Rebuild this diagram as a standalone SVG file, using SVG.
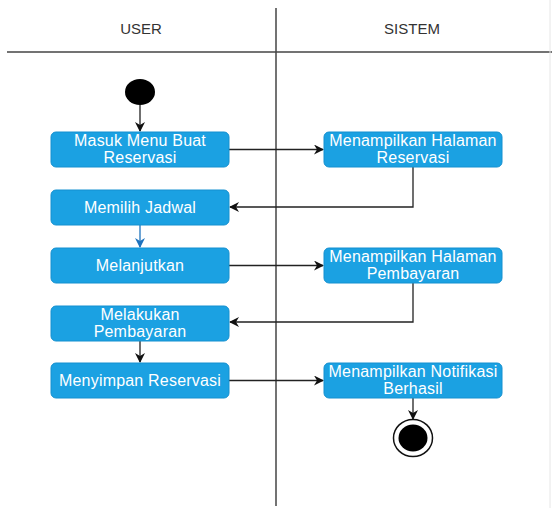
<svg xmlns="http://www.w3.org/2000/svg" width="552" height="508" viewBox="0 0 552 508">
<style>
.act{fill:#1ba1e2;stroke:#1590d0;stroke-width:1}
.t{font-family:"Liberation Sans",Arial,sans-serif;font-size:16px;letter-spacing:0.2px;fill:#ffffff;text-anchor:middle}
.h{font-family:"Liberation Sans",Arial,sans-serif;font-size:15px;fill:#333333;text-anchor:middle}
.c{fill:none;stroke:#222222;stroke-width:1.3}
.lane{stroke:#444444;stroke-width:1.5;fill:none}
</style>
<defs>
<marker id="ah" viewBox="0 0 10 10" refX="9" refY="5" markerWidth="10" markerHeight="10" markerUnits="userSpaceOnUse" orient="auto">
<path d="M0,0 L10,5 L0,10 L3,5 z" fill="#111111"/>
</marker>
<marker id="ahb" viewBox="0 0 10 10" refX="9" refY="5" markerWidth="10" markerHeight="10" markerUnits="userSpaceOnUse" orient="auto">
<path d="M0,0 L10,5 L0,10 L3,5 z" fill="#1e73be"/>
</marker>
</defs>
<rect width="552" height="508" fill="#ffffff"/>
<g id="lanes">
<line class="lane" x1="7" y1="52" x2="552" y2="52"/>
<line class="lane" x1="276" y1="8" x2="276" y2="506"/>
<line x1="550" y1="0" x2="550" y2="508" stroke="#e6e6e6" stroke-width="1"/>
<text class="h" x="141" y="34">USER</text>
<text class="h" x="412" y="34">SISTEM</text>
</g>
<g id="connectors">
<line class="c" x1="140" y1="105" x2="140" y2="131" marker-end="url(#ah)"/>
<line class="c" x1="229" y1="149.5" x2="323" y2="149.5" marker-end="url(#ah)"/>
<polyline class="c" points="413,167 413,207 230,207" marker-end="url(#ah)"/>
<line x1="140" y1="225" x2="140" y2="247" stroke="#1e73be" stroke-width="1.3" marker-end="url(#ahb)"/>
<line class="c" x1="229" y1="265.5" x2="323" y2="265.5" marker-end="url(#ah)"/>
<polyline class="c" points="413,283 413,322 230,322" marker-end="url(#ah)"/>
<line class="c" x1="140" y1="341" x2="140" y2="362" marker-end="url(#ah)"/>
<line class="c" x1="229" y1="380.5" x2="323" y2="380.5" marker-end="url(#ah)"/>
<line class="c" x1="413" y1="398" x2="413" y2="419" marker-end="url(#ah)"/>
</g>
<g id="start"><ellipse cx="140" cy="92" rx="15" ry="13" fill="#000000"/></g>
<g id="n1"><rect class="act" x="51" y="132" width="178" height="35" rx="5"/><text class="t" x="140" y="146">Masuk Menu Buat</text><text class="t" x="140" y="163">Reservasi</text></g>
<g id="n2"><rect class="act" x="324" y="132" width="178" height="35" rx="5"/><text class="t" x="413" y="146">Menampilkan Halaman</text><text class="t" x="413" y="163">Reservasi</text></g>
<g id="n3"><rect class="act" x="51" y="190" width="178" height="35" rx="5"/><text class="t" x="140" y="213">Memilih Jadwal</text></g>
<g id="n4"><rect class="act" x="51" y="248" width="178" height="35" rx="5"/><text class="t" x="140" y="271">Melanjutkan</text></g>
<g id="n5"><rect class="act" x="324" y="248" width="178" height="35" rx="5"/><text class="t" x="413" y="262">Menampilkan Halaman</text><text class="t" x="413" y="279">Pembayaran</text></g>
<g id="n6"><rect class="act" x="51" y="306" width="178" height="35" rx="5"/><text class="t" x="140" y="320">Melakukan</text><text class="t" x="140" y="337">Pembayaran</text></g>
<g id="n7"><rect class="act" x="51" y="363" width="178" height="35" rx="5"/><text class="t" x="140" y="386">Menyimpan Reservasi</text></g>
<g id="n8"><rect class="act" x="324" y="363" width="178" height="35" rx="5"/><text class="t" x="413" y="377">Menampilkan Notifikasi</text><text class="t" x="413" y="394">Berhasil</text></g>
<g id="end"><ellipse cx="413" cy="438" rx="19.5" ry="18.5" fill="#ffffff" stroke="#111111" stroke-width="1.5"/><ellipse cx="413" cy="438" rx="14.5" ry="13.5" fill="#000000"/></g>
</svg>
